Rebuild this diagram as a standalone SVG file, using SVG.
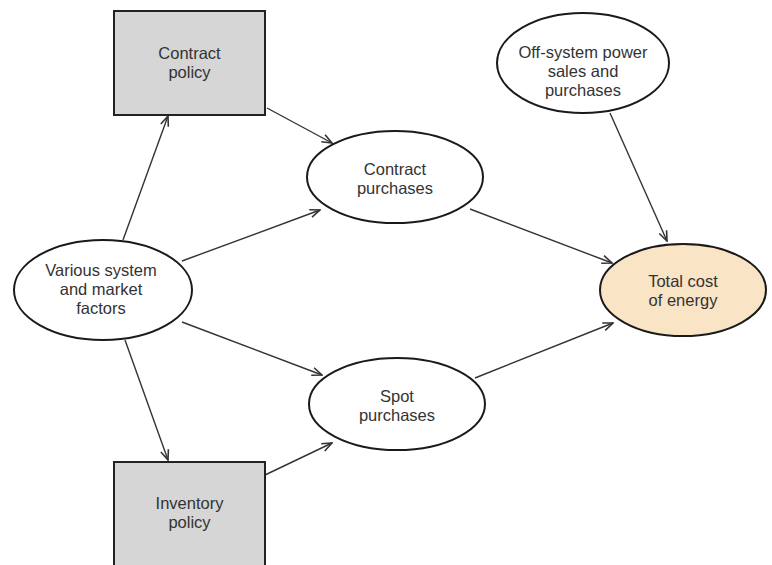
<svg xmlns="http://www.w3.org/2000/svg" width="772" height="565" viewBox="0 0 772 565">
<defs>
<style>
.box{fill:#d5d6d5;stroke:#222;stroke-width:2}
.ell{fill:#fff;stroke:#1a1a1a;stroke-width:2}
.hl{fill:#f9e4c6;stroke:#1a1a1a;stroke-width:2}
.t{font-family:"Liberation Sans",Arial,sans-serif;font-size:16.5px;fill:#333;text-anchor:middle}
.c{stroke:#333;stroke-width:1.4;fill:none;marker-end:url(#ah)}
</style>
<marker id="ah" viewBox="0 0 12 10" refX="11" refY="5" markerWidth="12" markerHeight="10" markerUnits="userSpaceOnUse" orient="auto">
<path d="M1,1 L11,5 L1,9" fill="none" stroke="#333" stroke-width="1.6"/>
</marker>
</defs>
<rect width="772" height="565" fill="#fff"/>
<g id="connectors">
<line class="c" x1="123" y1="240" x2="168" y2="116"/>
<line class="c" x1="125" y1="340" x2="168" y2="460"/>
<line class="c" x1="267" y1="108" x2="332" y2="143"/>
<line class="c" x1="182" y1="261" x2="320" y2="210"/>
<line class="c" x1="182" y1="322" x2="322" y2="375"/>
<line class="c" x1="265" y1="475" x2="332" y2="443"/>
<line class="c" x1="470" y1="209" x2="612" y2="263"/>
<line class="c" x1="475" y1="378" x2="613" y2="323"/>
<line class="c" x1="610" y1="113" x2="667" y2="241"/>
</g>
<g id="contract-policy">
<rect class="box" x="114" y="11" width="151" height="104"/>
<text class="t" x="189.5" y="59">Contract</text>
<text class="t" x="189.5" y="78">policy</text>
</g>
<g id="inventory-policy">
<rect class="box" x="114" y="462" width="151" height="110"/>
<text class="t" x="189.5" y="509">Inventory</text>
<text class="t" x="189.5" y="528">policy</text>
</g>
<g id="various-factors">
<ellipse class="ell" cx="103" cy="290" rx="89" ry="50"/>
<text class="t" x="101" y="276">Various system</text>
<text class="t" x="101" y="295">and market</text>
<text class="t" x="101" y="314">factors</text>
</g>
<g id="contract-purchases">
<ellipse class="ell" cx="395" cy="177" rx="88" ry="46"/>
<text class="t" x="395" y="175">Contract</text>
<text class="t" x="395" y="194">purchases</text>
</g>
<g id="spot-purchases">
<ellipse class="ell" cx="397" cy="404" rx="88" ry="46"/>
<text class="t" x="397" y="402">Spot</text>
<text class="t" x="397" y="421">purchases</text>
</g>
<g id="off-system">
<ellipse class="ell" cx="583" cy="63" rx="86" ry="50"/>
<text class="t" x="583" y="58">Off-system power</text>
<text class="t" x="583" y="77">sales and</text>
<text class="t" x="583" y="96">purchases</text>
</g>
<g id="total-cost">
<ellipse class="hl" cx="683" cy="290" rx="83" ry="46"/>
<text class="t" x="683" y="287">Total cost</text>
<text class="t" x="683" y="306">of energy</text>
</g>
</svg>
